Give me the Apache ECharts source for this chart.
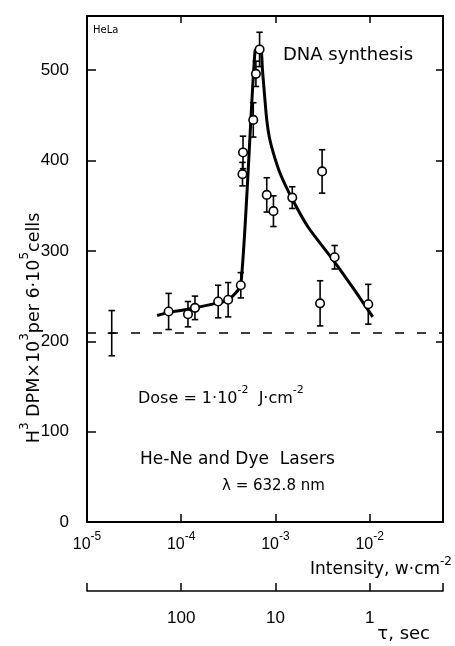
<!DOCTYPE html>
<html><head><meta charset="utf-8">
<script src="https://cdn.jsdelivr.net/npm/echarts@6/dist/echarts.min.js"></script>
<style>html,body{margin:0;padding:0;background:#fff}#c{width:455px;height:646px}</style>
</head><body><div id="c"></div>
<script>
// Measured points: laser intensity (W/cm^2), H3 DPM x10^3 per 6·10^5 cells, error (±)
const intensity = [7.35e-5, 1.18e-4, 1.40e-4, 2.47e-4, 3.15e-4, 4.29e-4, 4.47e-4, 4.53e-4, 5.82e-4, 6.21e-4, 6.79e-4, 8.09e-4, 9.53e-4, 1.51e-3, 2.98e-3, 3.13e-3, 4.25e-3, 9.68e-3];
const synthesis = [233, 230, 237, 244, 246, 262, 385, 409, 445, 496, 523, 362, 344, 359, 242, 388, 293, 241];
const errors    = [20, 14, 13, 18, 19, 14, 13, 18, 19, 14, 19, 19, 17, 12, 25, 24, 13, 22];
// Control (no irradiation) point
const controlIntensity = [1.83e-5];
const controlValue = [209];
const controlError = [25];
const baselineValue = 209;
// Fitted curve
const curveIntensity = [5.55e-5, 7.35e-5, 1.18e-4, 2.47e-4, 3.15e-4, 4.29e-4, 6.08e-4, 6.95e-4, 7.29e-4, 7.66e-4, 8.09e-4, 8.65e-4, 9.53e-4, 1.12e-3, 1.49e-3, 2.22e-3, 4.25e-3, 6.90e-3, 1.08e-2];
const curveValue     = [228.6, 232, 235.5, 242.5, 245.5, 262, 522, 525, 500, 473, 445, 425, 408, 386, 358.6, 326.5, 287.7, 256.8, 227];
// Axes
const xMin = 1e-5, xMax = 0.0601;
const xTickExps = [-5, -4, -3, -2];
const dose = 1e-2;              // J/cm^2 ; tau = dose / intensity
const tauTicks = [100, 10, 1];
const yMin = 0, yMax = 560, yStep = 100;

const FONT = '"DejaVu Sans", sans-serif';
const NUMFONT = '"Liberation Sans", Arial, sans-serif';

const chart = echarts.init(document.getElementById('c'), null, {renderer: 'canvas'});

function isPow(v, list) {
  const e = Math.round(Math.log10(v));
  return Math.abs(Math.log10(v) - e) < 1e-6 && list.includes(e) ? e : null;
}

function errRender(params, api) {
  const x = api.value(0), lo = api.value(1), hi = api.value(2);
  const a = api.coord([x, hi]), b = api.coord([x, lo]);
  const cap = 3.2;
  const style = {stroke: '#000', lineWidth: 1.6};
  return {type: 'group', children: [
    {type: 'line', shape: {x1: a[0], y1: a[1], x2: b[0], y2: b[1]}, style},
    {type: 'line', shape: {x1: a[0] - cap, y1: a[1], x2: a[0] + cap, y2: a[1]}, style},
    {type: 'line', shape: {x1: b[0] - cap, y1: b[1], x2: b[0] + cap, y2: b[1]}, style}
  ]};
}
function ctrlRender(params, api) {
  const g = errRender(params, api);
  const c = api.coord([api.value(0), api.value(3)]);
  g.children.push({type: 'line', shape: {x1: c[0] - 4, y1: c[1], x2: c[0] + 4, y2: c[1]}, style: {stroke: '#000', lineWidth: 1.6}});
  return g;
}

const supRich = {
  b: {fontFamily: NUMFONT, fontSize: 16, color: '#000', verticalAlign: 'bottom', lineHeight: 22},
  s: {fontFamily: NUMFONT, fontSize: 12, color: '#000', verticalAlign: 'top', lineHeight: 22}
};
const textRich = {
  n: {fontFamily: FONT, fontSize: 16, color: '#000', verticalAlign: 'bottom', lineHeight: 22},
  s: {fontFamily: FONT, fontSize: 11, color: '#000', verticalAlign: 'top', lineHeight: 22}
};
const yNameRich = {
  n: {fontFamily: FONT, fontSize: 17.5, color: '#000', verticalAlign: 'bottom', lineHeight: 24},
  s: {fontFamily: FONT, fontSize: 12, color: '#000', verticalAlign: 'top', lineHeight: 24}
};

const option = {
  animation: false,
  backgroundColor: '#fff',
  grid: {left: 87, right: 9, top: 16, bottom: 124, containLabel: false},
  xAxis: [
    {
      type: 'log', logBase: 10, min: xMin, max: xMax, position: 'bottom', gridIndex: 0,
      axisLine: {show: true, onZero: false, lineStyle: {color: '#000', width: 2}},
      axisTick: {show: true, inside: true, length: 8, lineStyle: {color: '#000', width: 1.5}},
      splitLine: {show: false}, minorTick: {show: false},
      axisLabel: {
        margin: 9, color: '#000',
        formatter: v => { const e = isPow(v, xTickExps); return e === null ? '' : '{b|10}{s|' + e + '}'; },
        rich: supRich
      },
      name: '{n|Intensity, w·cm}{s|-2}', nameLocation: 'end', nameGap: 9, nameMoveOverlap: false,
      nameTextStyle: {align: 'right', verticalAlign: 'top', padding: [34, 0, 0, 0], rich: {
        n: {fontFamily: FONT, fontSize: 17, color: '#000', verticalAlign: 'bottom', lineHeight: 22},
        s: {fontFamily: FONT, fontSize: 12, color: '#000', verticalAlign: 'top', lineHeight: 22}
      }}
    },
    {
      type: 'log', logBase: 10, inverse: true, min: dose / xMax, max: dose / xMin, position: 'bottom', offset: 69, gridIndex: 0,
      axisLine: {show: true, onZero: false, lineStyle: {color: '#000', width: 1.6}},
      axisTick: {show: true, inside: true, length: 8, lineStyle: {color: '#000', width: 1.5}},
      splitLine: {show: false},
      axisLabel: {
        margin: 19, color: '#000', fontFamily: NUMFONT, fontSize: 17,
        formatter: v => tauTicks.some(t => Math.abs(t - v) / t < 1e-6) ? String(Math.round(v)) : ''
      },
      name: 'τ, sec', nameLocation: 'start', nameGap: -13, nameMoveOverlap: false,
      nameTextStyle: {align: 'right', verticalAlign: 'top', padding: [34, 0, 0, 0], fontFamily: FONT, fontSize: 18, color: '#000'}
    },
    {
      type: 'log', logBase: 10, min: xMin, max: xMax, position: 'top', gridIndex: 0,
      axisLine: {show: true, onZero: false, lineStyle: {color: '#000', width: 2}},
      axisTick: {show: true, inside: true, length: 7, lineStyle: {color: '#000', width: 1.5}},
      axisLabel: {show: false}, splitLine: {show: false}
    }
  ],
  yAxis: [
    {
      type: 'value', min: yMin, max: yMax, interval: yStep, position: 'left',
      axisLine: {show: true, onZero: false, lineStyle: {color: '#000', width: 2}},
      axisTick: {show: true, inside: true, length: 9, lineStyle: {color: '#000', width: 1.5}},
      splitLine: {show: false},
      axisLabel: {margin: 18, color: '#000', fontFamily: NUMFONT, fontSize: 17, showMaxLabel: false,
        formatter: v => (v % yStep === 0 ? String(v) : '')},
      name: '{n|H}{s|3}{n| DPM×10}{s|3}{n|per 6·10}{s|5}{n|cells}',
      nameLocation: 'middle', nameGap: 44, nameMoveOverlap: false,
      nameTextStyle: {padding: [0, 118, 0, 0], rich: yNameRich}
    },
    {
      type: 'value', min: yMin, max: yMax, interval: yStep, position: 'right',
      axisLine: {show: true, onZero: false, lineStyle: {color: '#000', width: 2}},
      axisTick: {show: true, inside: true, length: 7, lineStyle: {color: '#000', width: 1.5}},
      axisLabel: {show: false}, splitLine: {show: false}
    }
  ],
  series: [
    {
      name: 'fit', type: 'line', xAxisIndex: 0, yAxisIndex: 0,
      data: curveIntensity.map((x, i) => [x, curveValue[i]]),
      showSymbol: false, symbol: 'none', smooth: 0.2,
      lineStyle: {color: '#000', width: 3, join: 'round'}, z: 2,
      markLine: {
        silent: true, symbol: 'none', label: {show: false},
        lineStyle: {color: '#000', width: 1.5, type: [9, 13]},
        data: [{yAxis: baselineValue}]
      }
    },
    {
      name: 'errors', type: 'custom', xAxisIndex: 0, yAxisIndex: 0,
      data: intensity.map((x, i) => [x, synthesis[i] - errors[i], synthesis[i] + errors[i]]),
      encode: {x: 0, y: [1, 2]}, renderItem: errRender, z: 3
    },
    {
      name: 'control', type: 'custom', xAxisIndex: 0, yAxisIndex: 0,
      data: controlIntensity.map((x, i) => [x, controlValue[i] - controlError[i], controlValue[i] + controlError[i], controlValue[i]]),
      encode: {x: 0, y: [1, 2]}, renderItem: ctrlRender, z: 3
    },
    {
      name: 'DNA synthesis', type: 'scatter', xAxisIndex: 0, yAxisIndex: 0,
      data: intensity.map((x, i) => [x, synthesis[i]]),
      symbol: 'circle', symbolSize: 8.5,
      itemStyle: {color: '#fff', borderColor: '#000', borderWidth: 1.6, opacity: 1}, z: 5
    }
  ],
  graphic: [
    {type: 'text', left: 93, top: 25, style: {text: 'HeLa', font: '10px ' + FONT, fill: '#000'}},
    {type: 'text', left: 283, top: 46, style: {text: 'DNA synthesis', font: '18px ' + FONT, fill: '#000'}},
    {type: 'text', left: 138, top: 385, style: {text: '{n|Dose = 1·10}{s|-2}{n|  J·cm}{s|-2}', rich: textRich}},
    {type: 'text', left: 140, top: 451, style: {text: 'He-Ne and Dye  Lasers', font: '17px ' + FONT, fill: '#000'}},
    {type: 'text', left: 222, top: 479, style: {text: 'λ = 632.8 nm', font: '15px ' + FONT, fill: '#000'}}
  ]
};
chart.setOption(option);
</script>
</body></html>
